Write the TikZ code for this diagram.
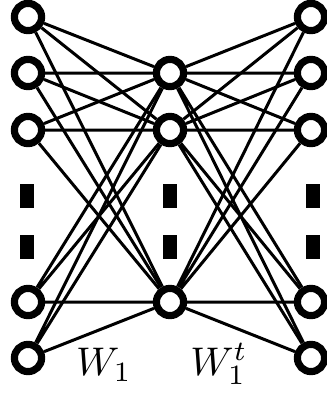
\documentclass[tikz,border=0pt]{standalone}
\usepackage{tikz}
\usetikzlibrary{positioning}

\begin{document}
\begin{tikzpicture}[x=0.25pt, y=-0.25pt,
  unit/.style = {circle, draw, line width=1.8pt, fill=white,
                 minimum size=6.8pt, inner sep=0pt},
  vdot/.style = {rectangle, fill=black, inner sep=0pt,
                 minimum width=3.3pt, minimum height=6.2pt},
  wire/.style = {line width=0.75pt}
]
\useasboundingbox (0,0) rectangle (326,396);

%% --- Input layer ---
\node[unit] (a1) at (28,17)  {};
\node[unit] (a2) at (28,73)  {};
\node[unit] (a3) at (28,130) {};
\node[unit] (a4) at (28,302) {};
\node[unit] (a5) at (28,358) {};

%% --- Hidden layer ---
\node[unit] (h1) at (170,73)  {};
\node[unit] (h2) at (170,130) {};
\node[unit] (h3) at (170,302) {};

%% --- Output layer ---
\node[unit] (b1) at (311,17)  {};
\node[unit] (b2) at (311,73)  {};
\node[unit] (b3) at (311,130) {};
\node[unit] (b4) at (311,302) {};
\node[unit] (b5) at (311,358) {};

%% --- Vertical dots ---
\node[vdot] (adot1) at (27,196)  {};
\node[vdot] (adot2) at (27,247)  {};
\node[vdot] (hdot1) at (170,196) {};
\node[vdot] (hdot2) at (170,247) {};
\node[vdot] (bdot1) at (313,196) {};
\node[vdot] (bdot2) at (313,247) {};

%% --- Weights W1 ---
\draw[wire] (a1) -- (h1) (a1) -- (h2) (a1) -- (h3);
\draw[wire] (a2) -- (h1) (a2) -- (h2) (a2) -- (h3);
\draw[wire] (a3) -- (h1) (a3) -- (h2) (a3) -- (h3);
\draw[wire] (a4) -- (h1) (a4) -- (h2) (a4) -- (h3);
\draw[wire] (a5) -- (h1) (a5) -- (h2) (a5) -- (h3);

%% --- Weights W1^t ---
\draw[wire] (h1) -- (b1) (h1) -- (b2) (h1) -- (b3) (h1) -- (b4) (h1) -- (b5);
\draw[wire] (h2) -- (b1) (h2) -- (b2) (h2) -- (b3) (h2) -- (b4) (h2) -- (b5);
\draw[wire] (h3) -- (b1) (h3) -- (b2) (h3) -- (b3) (h3) -- (b4) (h3) -- (b5);

%% --- Labels ---
\node[anchor=base] (w1)  at (104,375) {$W_1$};
\node[anchor=base] (w1t) at (219,375) {$W_1^t$};
\end{tikzpicture}
\end{document}
